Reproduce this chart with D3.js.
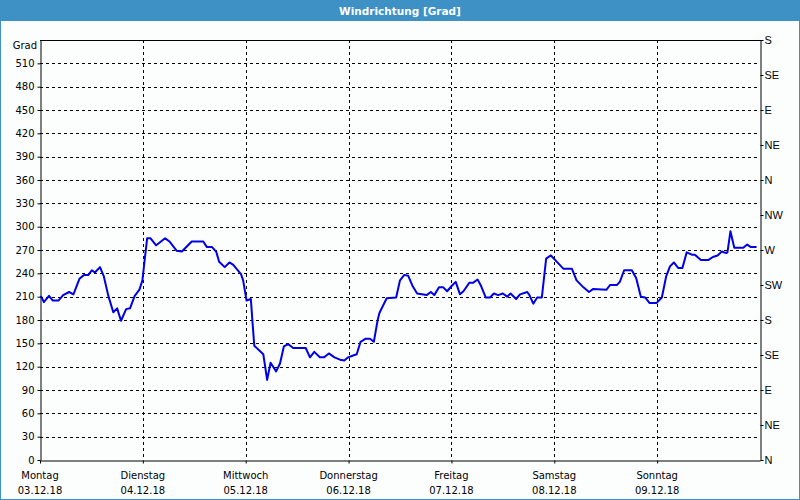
<!DOCTYPE html>
<html><head><meta charset="utf-8">
<script src="https://cdn.jsdelivr.net/npm/d3@7"></script>
<style>
html,body{margin:0;padding:0;background:#fcfefe;}
svg{display:block;}
</style></head>
<body>
<svg id="c" width="800" height="500"></svg>
<script>
// Day categories (bottom axis)
const dayNames = ["Montag","Dienstag","Mittwoch","Donnerstag","Freitag","Samstag","Sonntag"];
const dayDates = ["03.12.18","04.12.18","05.12.18","06.12.18","07.12.18","08.12.18","09.12.18"];
// Left axis ticks (degrees)
const leftTicks = [0,30,60,90,120,150,180,210,240,270,300,330,360,390,420,450,480,510];
// Right axis compass labels
const compassValues = [0,45,90,135,180,225,270,315,360,405,450,495,540];
const compassLabels = ["N","NE","E","SE","S","SW","W","NW","N","NE","E","SE","S"];
// Series: hours since Monday 00:00, and wind direction in degrees
const hours = [0.2,0.9,2.1,3.0,4.3,5.4,6.8,7.8,9.2,10.3,11.3,12.1,12.8,14.0,14.9,15.9,17.1,18.0,18.9,20.1,21.0,22.1,23.2,23.9,24.5,25.0,25.8,27.1,29.2,30.2,31.9,33.1,35.4,38.1,38.9,40.1,41.1,41.8,43.1,44.2,45.1,46.9,47.4,48.2,49.2,49.6,50.0,52.1,53.0,53.8,55.1,56.0,56.9,57.9,59.1,62.0,63.0,64.0,65.3,66.3,67.4,68.7,70.0,71.0,71.9,72.9,73.9,74.8,76.0,77.0,77.9,78.6,78.8,79.2,80.0,80.9,83.1,84.0,85.0,85.9,87.0,88.0,90.2,91.2,92.0,93.1,94.1,95.0,96.1,97.0,98.0,98.8,100.2,101.1,102.1,102.9,104.0,105.0,105.9,106.9,108.0,109.0,109.8,111.1,112.0,113.7,114.2,115.1,116.0,117.1,118.1,119.2,120.4,122.1,124.1,125.2,126.8,128.1,129.1,132.2,133.0,134.6,135.3,136.3,138.1,139.1,140.2,141.2,142.2,143.9,145.1,146.1,147.0,147.9,148.9,149.9,150.9,152.1,152.8,154.2,155.9,157.0,158.1,159.1,160.1,160.4,161.1,162.0,164.1,165.0,165.8,167.2];
const degrees = [211,203,211,205,205,212,216,213,233,238,238,244,241,248,236,212,190,195,179,194,195,211,219,231,261,285,285,276,285,281,269,268,281,281,274,274,268,255,248,254,251,239,231,205,207,176,147,136,103,125,114,124,146,149,144,144,132,139,132,132,137,132,129,128,132,134,136,152,156,156,152,174,180,189,198,208,209,231,238,237,223,214,212,216,212,222,222,217,224,229,213,217,228,228,232,224,209,209,214,212,214,210,214,207,213,216,212,201,209,209,259,263,256,246,246,231,222,216,220,219,225,225,229,244,244,234,210,209,202,202,209,236,249,254,247,247,267,264,264,257,257,261,263,268,266,267,294,273,273,277,274,274];

const svg = d3.select("#c");
const W = 800, H = 500;
const L = 40, R = 760, T = 40, B = 460;
const blue = "#3d91c4";

// frame and title bar
svg.append("rect").attr("x",0.5).attr("y",0.5).attr("width",W-1).attr("height",H-1)
  .attr("fill","#fcfefe").attr("stroke",blue).attr("stroke-width",1);
svg.append("rect").attr("x",0).attr("y",0).attr("width",W).attr("height",21).attr("fill",blue);
svg.append("text").attr("x",W/2).attr("y",15).attr("text-anchor","middle")
  .attr("font-family","DejaVu Sans, sans-serif").attr("font-weight","bold").attr("font-size","10.5px")
  .attr("fill","#ffffff").text("Windrichtung [Grad]");

const x = d3.scaleLinear().domain([0,168]).range([L,R]);
const y = d3.scaleLinear().domain([0,540]).range([B,T]);

const font = "DejaVu Sans, sans-serif";

// horizontal grid
svg.append("g").selectAll("line").data(leftTicks.filter(d=>d>0)).join("line")
  .attr("x1",L).attr("x2",R).attr("y1",d=>Math.round(y(d))+0.5).attr("y2",d=>Math.round(y(d))+0.5)
  .attr("stroke","#000").attr("stroke-width",1).attr("stroke-dasharray","3,3");
// vertical grid
svg.append("g").selectAll("line").data(d3.range(1,7)).join("line")
  .attr("x1",d=>Math.round(x(d*24))+0.5).attr("x2",d=>Math.round(x(d*24))+0.5).attr("y1",T).attr("y2",B)
  .attr("stroke","#000").attr("stroke-width",1).attr("stroke-dasharray","3,3");

// left axis
const gl = svg.append("g").attr("transform",`translate(${L+0.5},0)`)
  .call(d3.axisLeft(y).tickValues(leftTicks).tickSize(3).tickSizeOuter(0).tickPadding(3));
gl.select(".domain").attr("stroke","#000");
gl.selectAll("text").attr("font-family",font).attr("font-size","10px").attr("fill","#000");
svg.append("text").attr("x",37).attr("y",49).attr("text-anchor","end")
  .attr("font-family",font).attr("font-size","10px").attr("fill","#000").text("Grad");

// right axis
const gr = svg.append("g").attr("transform",`translate(${R+0.5},0)`)
  .call(d3.axisRight(y).tickValues(compassValues).tickFormat((d,i)=>compassLabels[i]).tickSize(3).tickSizeOuter(0).tickPadding(1));
gr.select(".domain").attr("stroke","#000");
gr.selectAll("text").attr("font-family","Liberation Sans, Arial, sans-serif").attr("font-size","11px").attr("fill","#000");

// top border
svg.append("line").attr("x1",L).attr("x2",R+1).attr("y1",T+0.5).attr("y2",T+0.5).attr("stroke","#000");

// bottom axis
const gb = svg.append("g").attr("transform",`translate(0,${B+0.5})`)
  .call(d3.axisBottom(x).tickValues(d3.range(0,7).map(d=>d*24)).tickSize(3).tickSizeOuter(0).tickFormat(""));
gb.select(".domain").attr("stroke","#000");
const lab = svg.append("g").selectAll("g").data(dayNames).join("g")
  .attr("transform",(d,i)=>`translate(${x(i*24)},0)`);
lab.append("text").attr("y",479).attr("text-anchor","middle").attr("font-family",font).attr("font-size","10px")
  .attr("fill","#000").text(d=>d);
lab.append("text").attr("y",494).attr("text-anchor","middle").attr("font-family",font).attr("font-size","10px")
  .attr("fill","#000").text((d,i)=>dayDates[i]);

// line
const pts = hours.map((h,i)=>[h,degrees[i]]);
svg.append("path").datum(pts)
  .attr("d", d3.line().x(d=>x(d[0])).y(d=>y(d[1])))
  .attr("fill","none").attr("stroke","#0000e6").attr("stroke-width",2).attr("stroke-linejoin","round");
</script>
</body></html>
